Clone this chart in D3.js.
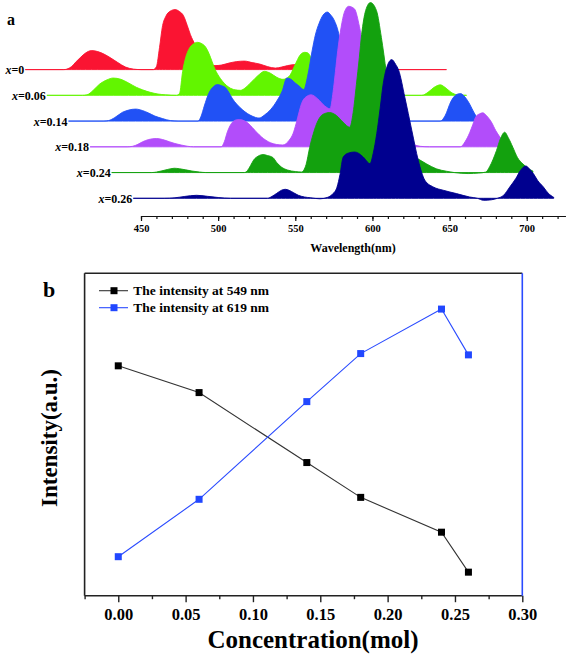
<!DOCTYPE html>
<html><head><meta charset="utf-8">
<script src="https://cdn.jsdelivr.net/npm/d3@7"></script>
<style>
html,body{margin:0;padding:0;background:#fff}
svg{display:block}
svg text{font-family:'Liberation Serif','Times New Roman','DejaVu Serif',serif !important;font-weight:bold}
</style></head>
<body><svg id="c" width="567" height="657" font-family="Liberation Serif"></svg>
<script>
// ---------------- DATA ----------------
// Panel a: emission spectra [wavelength nm, intensity a.u.]
const specLabels = ["0", "0.06", "0.14", "0.18", "0.24", "0.26"];
const specColors = ["#fa1432", "#62f500", "#2151f5", "#b24dfa", "#13a10e", "#00008f"];

const spec000 = [[445,0],[470,0],[472,0.5],[475,3],[478,8],[481,12.5],[484,16.5],[488,19],[492,18],[496,15.5],[500,12],[505,7],[510,2.5],[515,0.5],[520,0],[528,0],[530,3],[532,22],[534,44],[536,53],[539,58.5],[542,60],[545,58],[547.5,54],[550,44],[552,35],[555,25],[558,15],[561,8],[564,5],[568,4],[572,4.5],[577,6.5],[582,8],[587,8.5],[592,7],[597,5.5],[602,3],[607,1.5],[611,2.5],[615,4],[620,5],[624,3.5],[628,1.5],[633,0.3],[640,0],[718,0]];
const spec006 = [[445,0],[468,0],[471,0.5],[475,5],[479,11],[484,15.5],[488,17.3],[493,16],[498,12.3],[503,8],[507,5.5],[512,3],[517,1.3],[522,0.5],[529,0],[531,2],[533,24],[535,38],[537,46],[540,51.5],[542.5,53],[545,52],[548,48],[550,42],[552,34],[554,26],[556.5,19],[560,12],[563,8],[567,5.5],[570.5,5],[574,8],[578,14],[582,20],[586,24],[590,22],[594,18],[598,16],[602,19],[606,31],[609,40],[612,43],[614,42.5],[617,35],[620,22],[623,11],[627,4],[632,1.5],[638,1],[645,2],[650,3],[655,2],[660,0.5],[670,0],[688,0],[692,3],[696,8],[700,10.5],[703,8],[707,3],[711,0.5],[717,0]];
const spec014 = [[445,0],[468,0],[471,0.5],[475,3.5],[480,8.8],[484,11],[488.5,12],[493,10.5],[497,8],[501,5],[506,2.5],[511,0.5],[516,0],[529,0],[531,5],[533,15],[536,28],[539,34.5],[541.5,36.5],[544,35.5],[547,33],[549,28.5],[551,23],[554,17],[558,11],[561,7.5],[564,5],[568.5,3],[572,6],[576,11.5],[580,20],[583.5,30],[586.5,43],[589,42],[592,38],[594.5,35],[597.5,31.5],[600,45],[603,71],[605,86],[607.5,98],[610,106],[612.8,109],[615,106],[617,101.5],[620.5,85],[623,62],[626,38],[629,22],[633,11],[638,5],[643,3],[648,3.5],[652,3],[657,1],[662,0],[686,0],[689,5],[693,20],[696,26],[699,27.5],[702,24],[705,17],[708,8],[711,1.5],[714,0],[718,0]];
const spec018 = [[445,0],[469,0],[472.5,0.5],[476,2.5],[479,5],[483,7.3],[488,8.3],[492,7.3],[496.5,5],[500,3.3],[504,1.8],[508,0.6],[512,0],[530,0],[532,5],[534,15],[537.5,25],[540,27],[542,27.2],[545,26],[547.5,23.5],[550,19.5],[553,14.5],[556,10],[559,6.5],[562,4],[566,2.3],[570,1.8],[574,6.5],[576.5,13],[578.5,23],[580.5,35],[582,43],[585,50],[588.3,52],[592.5,48],[597,41],[600.5,38],[602.5,55],[604,75],[605.5,96],[607.7,119.5],[609.8,134.5],[612.6,140.5],[616.3,138],[619.6,120],[622.5,95],[625.5,65],[628.5,40],[632,20],[637,8],[642,5],[648,5],[653,3],[659,0.5],[665,0],[685,0],[688,5],[691,14],[693,22],[695,30],[697.5,33],[699.5,34],[702,31],[705,25],[708,16],[710.5,10],[713.5,3],[716,0],[718,0]];
const spec024 = [[445,0],[471,0],[474,0.5],[477,1.5],[481,3],[485.5,4.3],[489,3.8],[493,2.7],[497,1.5],[502,0.5],[506,0],[531,0],[533,2],[535,7],[537,12.5],[540,16.5],[543,18],[546,17],[549.5,15],[552,10],[555,5.5],[559,2.5],[564,1],[568,0.5],[571,8],[573.3,25],[575.5,38],[577.7,48.3],[582,58.3],[586.3,60],[590.7,57],[595,50.3],[599.3,45.3],[601.5,60],[603.6,88],[605.5,115],[607,138],[609.6,162],[612.7,170],[616.6,162],[619.8,135],[623,100],[626,65],[629.5,40],[633,26],[638,18],[643.5,13.7],[649,8.7],[655.5,3.7],[662,1.3],[667,0],[676,-1],[683,-0.5],[687.5,0.5],[690,6],[694.4,22],[697,34],[699.7,40.3],[702,35],[705,25.3],[708,15],[711.5,8.7],[715,4],[718,1.5]];
const spec026 = [[445,0],[465,0],[472,0.5],[478,1.8],[486,3],[493,2],[500,0.8],[508,0],[532,0],[535,2],[538,5],[541,8],[543.5,9],[546,8],[549,5.5],[552,3],[556,1.3],[560,0.5],[566,-0.5],[571,1],[574,4],[577,11],[579,24],[581,41],[584,45],[588.5,46.3],[591,45],[594,41.3],[598.4,34.7],[600.5,45],[602.8,64.7],[605,90],[607,114.7],[609.5,132],[612.5,138.7],[615,134],[617,128],[621,101],[625.5,68],[629.7,38],[634,18],[639.5,11.3],[646,8],[654.5,4.7],[663,1.3],[668,0],[672,-2],[677,-1.5],[681,0],[685,3],[689,11.3],[693,20],[696,28],[699.4,32.3],[702,29],[704.3,24.7],[707,18],[710.8,11.3],[714,5],[717.5,1]];
const spectra = [spec000, spec006, spec014, spec018, spec024, spec026];
const waveTicks = [450, 500, 550, 600, 650, 700];

// Panel b
const conc = [0, 0.06, 0.14, 0.18, 0.24, 0.26];
const int549 = [71.3, 63.0, 41.3, 30.5, 19.7, 7.3];
const int619 = [12.1, 29.9, 60.2, 75.1, 88.9, 74.7];
const concTicks = [0, 0.05, 0.10, 0.15, 0.20, 0.25, 0.30];
const legendLabels = ["The intensity at 549 nm", "The intensity at 619 nm"];
const seriesColors = ["#000000", "#2147ff"];
const lineColors = ["#333333", "#2a4bff"];

// ---------------- PANEL A ----------------
const svg = d3.select("#c");
const FONT = "'Liberation Serif','Times New Roman','DejaVu Serif',serif";

const xA = d3.scaleLinear().domain([450, 725]).range([141, 565.3]);
const hA = d3.scaleLinear().domain([0, 170]).range([0, 170]);
const stepX = 21.6, stepY = 25.74, frontBase = 198.3;

const gA = svg.append("g");
spectra.forEach((data, i) => {
  const dx = -(5 - i) * stepX;
  const base = frontBase - (5 - i) * stepY;
  const area = d3.area()
    .x(d => xA(d[0]) + dx)
    .y0(base)
    .y1(d => base - hA(d[1]))
    .curve(d3.curveMonotoneX);
  gA.append("path").datum(data)
    .attr("d", area)
    .attr("fill", specColors[i])
    .attr("stroke", specColors[i])
    .attr("stroke-width", 0.9)
    .attr("stroke-linejoin", "round");
  const t = gA.append("text")
    .attr("x", xA(data[0][0]) + dx - 1)
    .attr("y", base + 4.5)
    .attr("text-anchor", "end")
    .attr("font-size", 12);
  t.append("tspan").attr("font-style", "italic").text("x");
  t.append("tspan").text("=" + specLabels[i]);
});

const axA = svg.append("g").attr("transform", "translate(0,216)");
axA.call(d3.axisBottom(xA).tickValues(d3.range(450, 721, 10)).tickSize(3).tickSizeOuter(0).tickFormat(""));
axA.call(g => g.selectAll(".tick text").remove());
const axA2 = svg.append("g").attr("transform", "translate(0,216)");
axA2.call(d3.axisBottom(xA).tickValues(waveTicks).tickSize(5).tickSizeOuter(0).tickPadding(3.5).tickFormat(d3.format("d")));
[axA, axA2].forEach(g => {
  g.attr("font-family", FONT);
  g.selectAll("path,line").attr("stroke", "#111").attr("stroke-width", 1.2);
  g.selectAll("text").attr("font-size", 10.5).attr("font-family", FONT).attr("font-weight", "bold").attr("fill", "#000");
});
svg.append("text").attr("x", 353).attr("y", 251.5).attr("text-anchor", "middle")
  .attr("font-size", 12).text("Wavelength(nm)");
svg.append("text").attr("x", 7).attr("y", 25).attr("font-size", 16).text("a");

// ---------------- PANEL B ----------------
const L = 84.6, R = 522.3, T = 273.3, B = 595.7;
const xB = d3.scaleLinear().domain([-0.025, 0.30]).range([L, R]);
const yB = d3.scaleLinear().domain([0, 100]).range([B, T]);

const minorB = svg.append("g").attr("transform", `translate(0,${B})`)
  .call(d3.axisBottom(xB).tickValues(d3.range(-0.025, 0.29, 0.05)).tickSize(3.5).tickSizeOuter(0).tickFormat(""));
const majorB = svg.append("g").attr("transform", `translate(0,${B})`)
  .call(d3.axisBottom(xB).tickValues(concTicks).tickSize(6.5).tickSizeOuter(0).tickPadding(6.5).tickFormat(d3.format(".2f")));
[minorB, majorB].forEach(g => {
  g.attr("font-family", FONT);
  g.select(".domain").remove();
  g.selectAll("line").attr("stroke", "#222").attr("stroke-width", 1.4);
  g.selectAll("text").attr("font-size", 16.5).attr("font-family", FONT).attr("font-weight", "bold").attr("fill", "#000");
});

// frame
svg.append("line").attr("x1", L).attr("x2", R).attr("y1", T).attr("y2", T).attr("stroke", "#222").attr("stroke-width", 1.6);
svg.append("line").attr("x1", L).attr("x2", L).attr("y1", T).attr("y2", B).attr("stroke", "#222").attr("stroke-width", 1.6);
svg.append("line").attr("x1", L).attr("x2", R).attr("y1", B).attr("y2", B).attr("stroke", "#222").attr("stroke-width", 1.6);
svg.append("line").attr("x1", R).attr("x2", R).attr("y1", T).attr("y2", B).attr("stroke", "#2a4bff").attr("stroke-width", 1.6);

const series = [int549, int619];
series.forEach((vals, s) => {
  const pts = conc.map((c, k) => [c, vals[k]]);
  svg.append("path").datum(pts)
    .attr("d", d3.line().x(d => xB(d[0])).y(d => yB(d[1])))
    .attr("fill", "none").attr("stroke", lineColors[s]).attr("stroke-width", 1.1);
  svg.append("g").selectAll("rect").data(pts).join("rect")
    .attr("x", d => xB(d[0]) - 3.5).attr("y", d => yB(d[1]) - 3.5)
    .attr("width", 7).attr("height", 7).attr("fill", seriesColors[s]);
});

// legend
legendLabels.forEach((lab, s) => {
  const y = 290.7 + s * 17;
  svg.append("line").attr("x1", 99).attr("x2", 128).attr("y1", y).attr("y2", y)
    .attr("stroke", lineColors[s]).attr("stroke-width", 1.1);
  svg.append("rect").attr("x", 114 - 3.5).attr("y", y - 3.5).attr("width", 7).attr("height", 7).attr("fill", seriesColors[s]);
  svg.append("text").attr("x", 133.3).attr("y", y + 4.6).attr("font-size", 13.5).text(lab);
});

svg.append("text").attr("x", 43).attr("y", 297).attr("font-size", 22).text("b");
svg.append("text").attr("transform", "translate(57,438) rotate(-90)").attr("text-anchor", "middle")
  .attr("font-size", 23).text("Intensity(a.u.)");
svg.append("text").attr("x", 313).attr("y", 648).attr("text-anchor", "middle")
  .attr("font-size", 25).text("Concentration(mol)");
</script></body></html>
